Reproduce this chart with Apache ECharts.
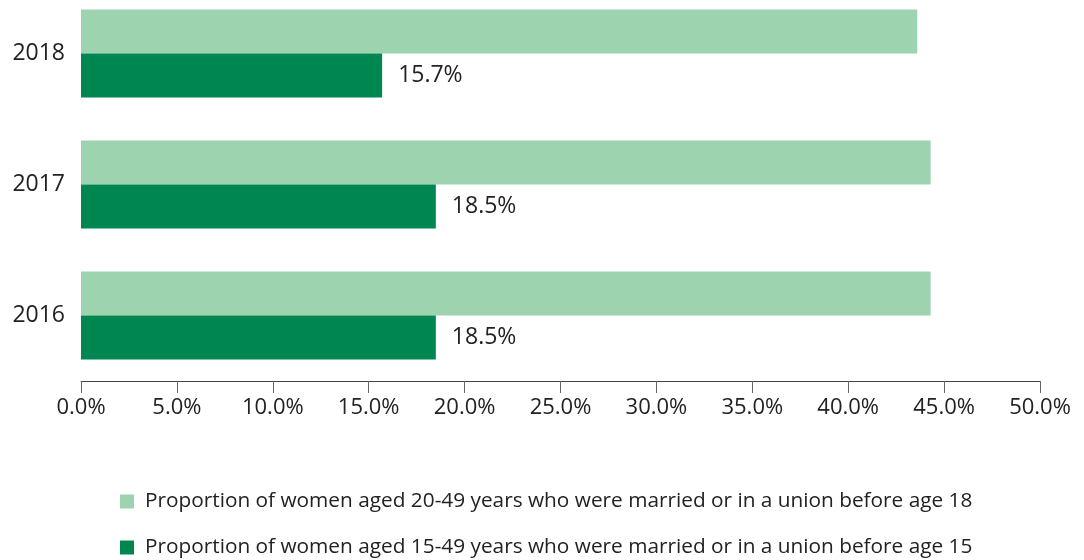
<!DOCTYPE html>
<html>
<head>
<meta charset="utf-8">
<script src="https://cdn.jsdelivr.net/npm/echarts@6/dist/echarts.min.js"></script>
<style>
  html, body { margin: 0; padding: 0; background: #fff; }
  #main { width: 1084px; height: 560px; }
</style>
</head>
<body>
<div id="main"></div>
<script>
  var years = ['2016', '2017', '2018'];
  var before18 = [44.3, 44.3, 43.6];
  var before15 = [18.5, 18.5, 15.7];
  var xTicks = { min: 0, max: 50, interval: 5 };
  var name18 = 'Proportion of women aged 20-49 years who were married or in a union before age 18';
  var name15 = 'Proportion of women aged 15-49 years who were married or in a union before age 15';

  var font = '"Open Sans", "Noto Sans", sans-serif';

  var chart = echarts.init(document.getElementById('main'));
  chart.setOption({
    animation: false,
    textStyle: { fontFamily: font },
    grid: { left: 81, right: 44, top: -12, height: 393, outerBoundsMode: 'none', containLabel: false },
    legend: {
      data: [name18, name15],
      orient: 'vertical',
      left: 120,
      top: 491,
      padding: 0,
      itemGap: 25,
      itemWidth: 14,
      itemHeight: 14,
      icon: 'rect',
      selectedMode: false,
      textStyle: { fontSize: 20.8, color: '#222', padding: [0, 0, 0, 6] }
    },
    xAxis: {
      type: 'value',
      min: xTicks.min,
      max: xTicks.max,
      interval: xTicks.interval,
      splitLine: { show: false },
      axisLine: { show: true, lineStyle: { color: '#444', width: 1 } },
      axisTick: { show: true, length: 12, lineStyle: { color: '#666' } },
      axisLabel: {
        fontSize: 22,
        color: '#222',
        margin: 16,
        formatter: function (v) { return v.toFixed(1) + '%'; }
      }
    },
    yAxis: {
      type: 'category',
      data: years,
      axisLine: { show: false },
      axisTick: { show: false },
      axisLabel: { fontSize: 23, color: '#222', margin: 16 }
    },
    series: [
      {
        name: name18,
        type: 'bar',
        data: before18,
        barWidth: 44,
        barGap: '0%',
        itemStyle: { color: '#9dd3af' }
      },
      {
        name: name15,
        type: 'bar',
        data: before15,
        barWidth: 44,
        barGap: '0%',
        itemStyle: { color: '#008751' },
        label: {
          show: true,
          position: 'right',
          distance: 16,
          fontSize: 23,
          color: '#222',
          formatter: function (p) { return p.value.toFixed(1) + '%'; }
        }
      }
    ]
  });
</script>
</body>
</html>
